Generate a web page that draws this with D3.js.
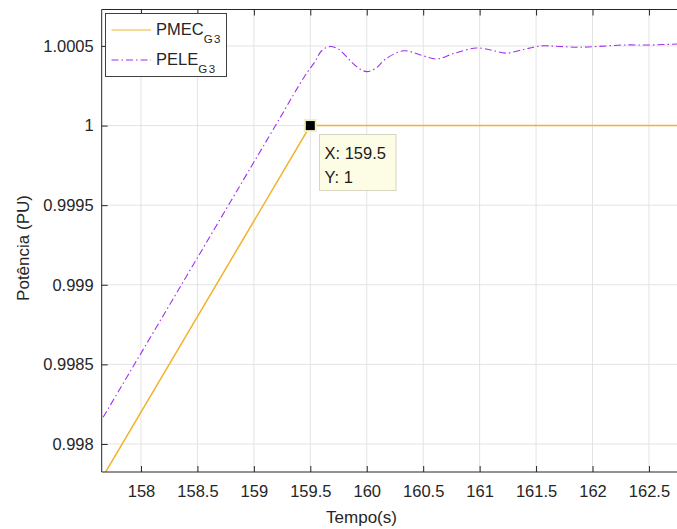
<!DOCTYPE html>
<html>
<head>
<meta charset="utf-8">
<script src="https://cdn.jsdelivr.net/npm/d3@7"></script>
<style>
  html, body { margin: 0; padding: 0; background: #fff; }
  svg { display: block; font-family: "Liberation Sans", Arial, sans-serif; }
</style>
</head>
<body>
<svg id="chart" width="677" height="529"></svg>
<script>
const xTicks = [158, 158.5, 159, 159.5, 160, 160.5, 161, 161.5, 162, 162.5];
const xTickLabels = ["158", "158.5", "159", "159.5", "160", "160.5", "161", "161.5", "162", "162.5"];
const yTicks = [0.998, 0.9985, 0.999, 0.9995, 1, 1.0005];
const yTickLabels = ["0.998", "0.9985", "0.999", "0.9995", "1", "1.0005"];

const pmecTime  = [157.6, 159.5, 162.8];
const pmecValue = [0.99772, 1.0, 1.0];

const peleTime  = [157.6, 158.5, 159.2, 159.45, 159.54, 159.6, 159.67, 159.75, 159.85, 159.93, 160.0, 160.08, 160.17, 160.33, 160.47, 160.62, 160.78, 160.97, 161.1, 161.23, 161.4, 161.54, 161.7, 161.89, 162.05, 162.27, 162.5, 162.8];
const peleValue = [0.99809, 0.99917, 1.00001, 1.00031, 1.00040, 1.00047, 1.000496, 1.00048, 1.00041, 1.00036, 1.000339, 1.00036, 1.00042, 1.00047, 1.000445, 1.000418, 1.000455, 1.000487, 1.000475, 1.000455, 1.00048, 1.0005, 1.000497, 1.000492, 1.000497, 1.000506, 1.000506, 1.000514];

const seriesNames = ["PMEC", "PELE"];
const seriesSub = ["G3", "G3"];
const tipX = 159.5, tipY = 1;

const svg = d3.select("#chart");
const L = 101.7, R = 680, T = 9.5, B = 472;
const x = d3.scaleLinear().domain([157.652, 162.775]).range([L, R]);
const y = d3.scaleLinear().domain([0.997824, 1.000729]).range([B, T]);

const gridColor = "#e3e3e3", axisColor = "#262626";
const tickFont = 16.5;

// grid
const g = svg.append("g");
g.selectAll("line.vg").data(xTicks).join("line")
  .attr("x1", d => x(d)).attr("x2", d => x(d)).attr("y1", T).attr("y2", B)
  .attr("stroke", gridColor).attr("stroke-width", 1);
g.selectAll("line.hg").data(yTicks).join("line")
  .attr("x1", L).attr("x2", R).attr("y1", d => y(d)).attr("y2", d => y(d))
  .attr("stroke", gridColor).attr("stroke-width", 1);

// clip
svg.append("clipPath").attr("id", "clip").append("rect")
  .attr("x", L).attr("y", T).attr("width", R - L).attr("height", B - T);

const plot = svg.append("g").attr("clip-path", "url(#clip)");
const pmec = pmecTime.map((t, i) => [t, pmecValue[i]]);
const pele = peleTime.map((t, i) => [t, peleValue[i]]);

plot.append("path").datum(pmec)
  .attr("d", d3.line().x(d => x(d[0])).y(d => y(d[1])))
  .attr("fill", "none").attr("stroke", "#F2B22C").attr("stroke-width", 1.5);
plot.append("path").datum(pele)
  .attr("d", d3.line().curve(d3.curveCatmullRom.alpha(0.5)).x(d => x(d[0])).y(d => y(d[1])))
  .attr("fill", "none").attr("stroke", "#a02ff0").attr("stroke-width", 1.1)
  .attr("stroke-dasharray", "7,3,1.5,3");

// axes
const xAxisB = d3.axisBottom(x).tickValues(xTicks).tickFormat((d, i) => xTickLabels[i]).tickSize(-6).tickPadding(13);
const xAxisT = d3.axisTop(x).tickValues(xTicks).tickFormat("").tickSize(-6);
const yAxisL = d3.axisLeft(y).tickValues(yTicks).tickFormat((d, i) => yTickLabels[i]).tickSize(-6).tickPadding(8);

function style(sel) {
  sel.select(".domain").remove();
  sel.selectAll(".tick line").attr("stroke", axisColor);
  sel.selectAll(".tick text").attr("fill", axisColor).attr("font-size", tickFont).attr("font-family", "Liberation Sans, Arial, sans-serif");
}
svg.append("g").attr("transform", `translate(0,${B})`).call(xAxisB).call(style);
svg.append("g").attr("transform", `translate(0,${T})`).call(xAxisT).call(style);
svg.append("g").attr("transform", `translate(${L},0)`).call(yAxisL).call(style);

// box lines
svg.append("line").attr("x1", L).attr("x2", R).attr("y1", B).attr("y2", B).attr("stroke", axisColor);
svg.append("line").attr("x1", L).attr("x2", R).attr("y1", T).attr("y2", T).attr("stroke", axisColor);
svg.append("line").attr("x1", L).attr("x2", L).attr("y1", T).attr("y2", B).attr("stroke", axisColor);

// axis labels
svg.append("text").attr("x", 361.5).attr("y", 523).attr("text-anchor", "middle")
  .attr("font-size", 17).attr("fill", axisColor).text("Tempo(s)");
svg.append("text").attr("transform", "translate(29,248) rotate(-90)").attr("text-anchor", "middle")
  .attr("font-size", 17).attr("fill", axisColor).text("Potência (PU)");

// legend
const leg = svg.append("g");
leg.append("rect").attr("x", 105.5).attr("y", 13.5).attr("width", 121).attr("height", 63)
  .attr("fill", "#fff").attr("stroke", "#404040").attr("stroke-width", 1);
const legColors = ["#F2B22C", "#a02ff0"];
const legDash = [null, "7,3,1.5,3"];
seriesNames.forEach((n, i) => {
  const yy = 30 + i * 30;
  leg.append("line").attr("x1", 111.5).attr("x2", 151).attr("y1", yy).attr("y2", yy)
    .attr("stroke", legColors[i]).attr("stroke-width", 1.2).attr("stroke-dasharray", legDash[i]);
  const t = leg.append("text").attr("x", 156).attr("y", yy + 5).attr("font-size", 16.5).attr("fill", axisColor);
  t.append("tspan").text(n);
  t.append("tspan").attr("dy", 7.5).attr("font-size", 11.5).attr("letter-spacing", 1.5).text(seriesSub[i]);
});

// datatip
svg.append("rect").attr("x", 319.5).attr("y", 134.5).attr("width", 76.5).attr("height", 56)
  .attr("fill", "#fdfde6").attr("stroke", "#d8d5c0").attr("stroke-width", 1);
svg.append("text").attr("x", 324.5).attr("y", 159).attr("font-size", 16.5).attr("fill", "#1a1a1a").text("X: " + tipX);
svg.append("text").attr("x", 324.5).attr("y", 182.5).attr("font-size", 16.5).attr("fill", "#1a1a1a").text("Y: " + tipY);
svg.append("rect").attr("x", x(tipX) - 5.5).attr("y", y(tipY) - 5.5).attr("width", 11).attr("height", 11)
  .attr("fill", "#000").attr("stroke", "#f2eec4").attr("stroke-width", 2);
</script>
</body>
</html>
